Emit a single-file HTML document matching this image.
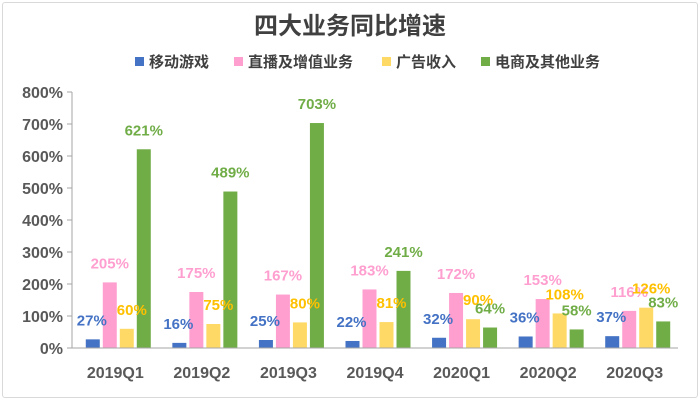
<!DOCTYPE html>
<html><head><meta charset="utf-8">
<style>
body{margin:0;background:#fff;}
#card{position:absolute;left:2px;top:2px;width:694px;height:394px;border:1px solid #d9d9d9;border-radius:3px;background:#fff;}
svg{position:absolute;left:0;top:0;font-family:"Liberation Sans","Noto Sans CJK SC",sans-serif;}
</style></head><body>
<div id="card"></div>
<svg id="chart" width="700" height="400"></svg>
<script>
const categories=["2019Q1","2019Q2","2019Q3","2019Q4","2020Q1","2020Q2","2020Q3"];
const seriesNames=["移动游戏","直播及增值业务","广告收入","电商及其他业务"];
const mobileGames=[27,16,25,22,32,36,37];
const liveVas=[205,175,167,183,172,153,116];
const ads=[60,75,80,81,90,108,126];
const ecommerce=[621,489,703,241,64,58,83];
const yTicks=[0,100,200,300,400,500,600,700,800];
const colors=["#4472c4","#ff9fd0","#ffd966","#70ad47"];
const labelColors=["#4472c4","#ff9fd0","#ffc000","#70ad47"];
const NS="http://www.w3.org/2000/svg";
const svg=document.getElementById('chart');
function mk(t,a,txt){const e=document.createElementNS(NS,t);for(const k in a)e.setAttribute(k,a[k]);if(txt!=null)e.textContent=txt;svg.appendChild(e);return e;}
const x0=72,x1=678,yBase=348,yTop=92;
const y=v=>yBase-(v/800)*(yBase-yTop);
const gw=(x1-x0)/categories.length;
const barW=14,gap=3;
const bx=(g,s)=>x0+gw*g+gw/2-(4*barW+3*gap)/2+s*(barW+gap)+3;
let t=mk('text',{x:350,y:34,'text-anchor':'middle','font-size':24,'font-weight':'bold',fill:'#404040'},'四大业务同比增速');


const legX=[135,234,382,481];
seriesNames.forEach((n,i)=>{
  const r=mk('rect',{x:legX[i],y:57,width:9,height:9,fill:colors[i]});
  
  
  const lt=mk('text',{x:legX[i]+14,y:67,'font-size':15,'font-weight':'bold',fill:'#404040'},n);
  
  
});
yTicks.forEach(v=>{
  const tl=mk('text',{x:63,y:y(v)+6,'text-anchor':'end','font-size':16,'font-weight':'bold',fill:'#595959'},v+'%');
  
  
  const tk=mk('line',{x1:67,x2:72,y1:y(v),y2:y(v),stroke:'#a6a6a6'});
  
  
});
let ax=mk('line',{x1:72,x2:72,y1:y(800),y2:yBase,stroke:'#a6a6a6'});


const all=[mobileGames,liveVas,ads,ecommerce];
const lblDx=[-1,0,5,0];
categories.forEach((c,g)=>{
  all.forEach((ser,s)=>{
    const v=ser[g];const xx=bx(g,s);
    const b=mk('rect',{x:xx,y:y(v),width:barW,height:yBase-y(v),fill:colors[s]});
    
    
  });
  all.forEach((ser,s)=>{
    const v=ser[g];const xx=bx(g,s);
    const l=mk('text',{x:xx+barW/2+lblDx[s],y:y(v)-14,'text-anchor':'middle','font-size':15,'font-weight':'bold',fill:labelColors[s]},v+'%');
    
    
  });
  const cl=mk('text',{x:x0+gw*g+gw/2,y:378,'text-anchor':'middle','font-size':16,'font-weight':'bold',fill:'#595959'},c);
  
  
});
let xa=mk('line',{x1:72,x2:x1,y1:yBase,y2:yBase,stroke:'#a6a6a6'});


</script>
</body></html>
